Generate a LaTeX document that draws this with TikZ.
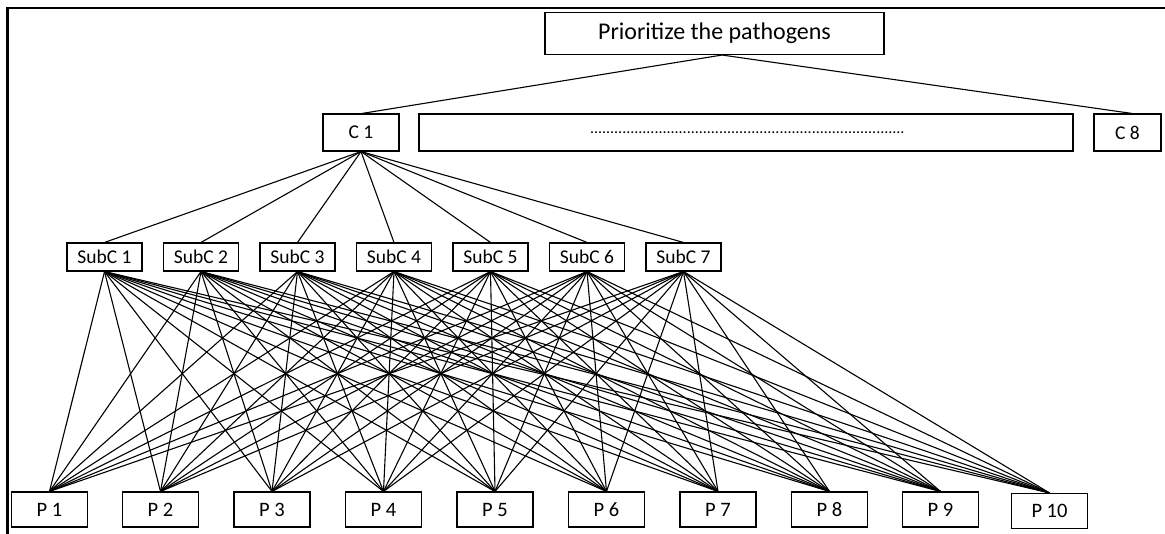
\documentclass[tikz,border=0pt]{standalone}
\usepackage{fontspec}
\setmainfont{Carlito}
\usetikzlibrary{calc}

\begin{document}
\begin{tikzpicture}[x=1pt,y=-1pt,line width=1.1pt,
  box/.style={draw,inner sep=0pt,line width=1.1pt},
  cbox/.style={box,minimum width=76pt,minimum height=37pt,font=\fontsize{19.5}{22}\selectfont},
  subbox/.style={box,minimum width=75pt,minimum height=28pt,font=\fontsize{19.5}{22}\selectfont},
  pbox/.style={box,minimum width=76pt,minimum height=35pt,font=\fontsize{20.5}{24}\selectfont}]
\useasboundingbox (0,0) rectangle (1165,534);

% Frame (top and left edges only).
\draw[line width=2.4pt] (7.5,534) -- (7.5,8) -- (1165,8);

% Goal and criteria.
\node[box,minimum width=339pt,minimum height=42pt,
  font=\fontsize{24}{28}\selectfont] (goal) at (714.5,33.5)
  {Prioritize the pathogens};
\node[cbox] (c1) at (361,132.5) {C 1};
\node[box,minimum width=654pt,minimum height=37pt,text width=654pt,
  align=left,font=\fontsize{16}{19}\selectfont] (cdots) at (746,132.5)
  {\hspace*{171pt}\foreach \i in {1,...,78}{.}};
\node[cbox,minimum width=67pt] (c8) at (1127.5,132.5) {C 8};
\draw ([xshift=7.5pt]goal.south) -- ([xshift=1pt]c1.north);
\draw ([xshift=7.5pt]goal.south) -- ([xshift=4.5pt]c8.north);

% Sub-criteria of C 1.
\foreach \i in {1,...,7} {
  \node[subbox] (sub\i) at ({104.5+96.5*(\i-1)},257) {SubC \i};
  \draw (c1.south) -- (sub\i.north);
}

% Pathogens.
\foreach \i/\x/\y in {1/49.5/509.5,2/160.5/509.5,3/272/509.5,4/383.5/509.5,
    5/495/509.5,6/606.5/509.5,7/718/509.5,8/829.5/509.5,9/940.5/509.5,
    10/1049.5/511}
  \node[pbox] (p\i) at (\x,\y) {P \i};

% Every sub-criterion to every pathogen.
\foreach \i in {1,...,7}
  \foreach \j in {1,...,10}
    \draw (sub\i.south) -- (p\j.north);
\end{tikzpicture}
\end{document}
